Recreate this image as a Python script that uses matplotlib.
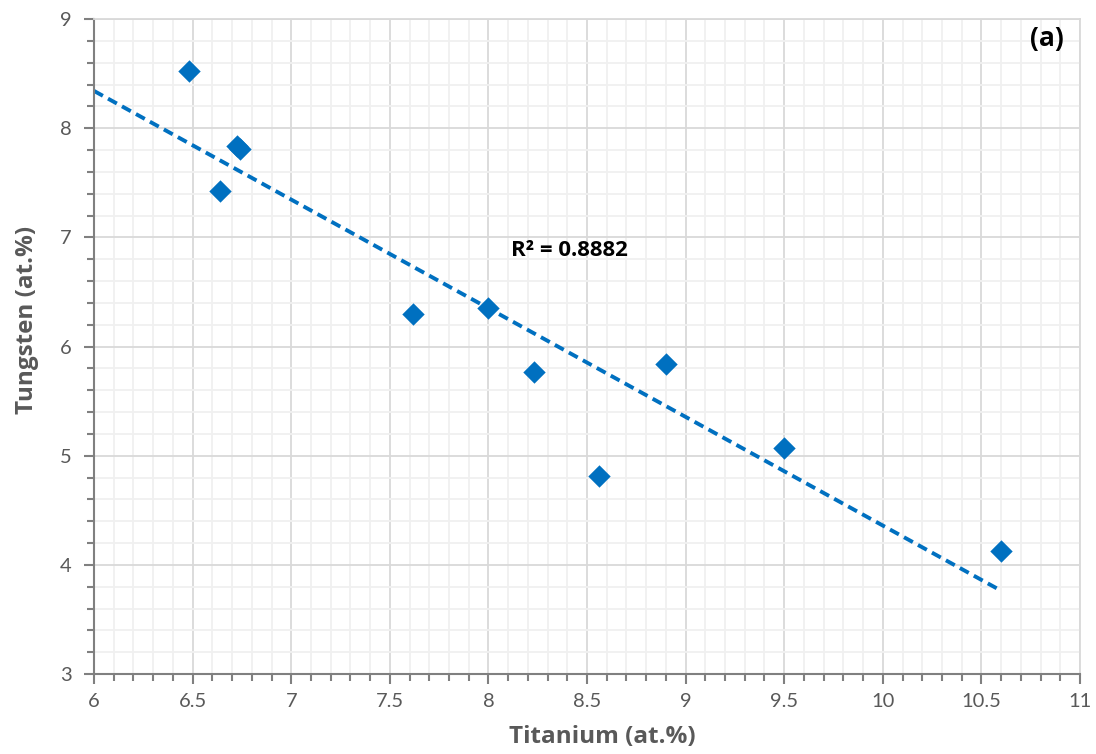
import numpy as np
import matplotlib
matplotlib.use("Agg")
import matplotlib.pyplot as plt
from matplotlib.ticker import MultipleLocator

titanium = [6.48, 6.64, 6.725, 6.74, 7.62, 8.00, 8.23, 8.56, 8.90, 9.50, 10.60]
tungsten = [8.52, 7.42, 7.84, 7.81, 6.30, 6.35, 5.77, 4.81, 5.84, 5.07, 4.13]
r2_label = "R² = 0.8882"
panel_label = "(a)"

plt.rcParams['font.family'] = ['Lato', 'DejaVu Sans']
bold_font = ['Open Sans', 'DejaVu Sans']

fig = plt.figure(figsize=(10.96, 7.54), dpi=100)
ax = fig.add_axes([0.0858, 0.1061, 0.8996, 0.8687])

ax.set_xlim(6, 11)
ax.set_ylim(3, 9)
ax.xaxis.set_major_locator(MultipleLocator(0.5))
ax.xaxis.set_minor_locator(MultipleLocator(0.1))
ax.yaxis.set_major_locator(MultipleLocator(1))
ax.yaxis.set_minor_locator(MultipleLocator(0.2))
ax.grid(which='major', color='#d9d9d9', lw=1.3, zorder=0)
ax.grid(which='minor', color='#f0f0f0', lw=1.3, zorder=0)
ax.set_axisbelow(True)
ax.xaxis.set_major_formatter(plt.FuncFormatter(lambda v, p: f"{v:g}"))

for s in ['top', 'right']:
    ax.spines[s].set_color('#d9d9d9')
    ax.spines[s].set_linewidth(1.3)
for s in ['left', 'bottom']:
    ax.spines[s].set_color('#808080')
    ax.spines[s].set_linewidth(1.5)

ax.tick_params(axis='both', which='major', direction='out', length=7, width=1.5,
               color='#808080', labelcolor='#595959', labelsize=14.5)
ax.tick_params(axis='x', which='major', pad=7)
ax.tick_params(axis='y', which='major', pad=9)
ax.tick_params(axis='both', which='minor', direction='out', length=5, width=1.5,
               color='#808080')

x = np.array(titanium)
y = np.array(tungsten)
m, b = np.polyfit(x, y, 1)
xs = np.array([6.0, x.max()])
ax.plot(xs, m * xs + b, ls=(0, (2.6, 1.5)), color='#0070C0', lw=2.8, zorder=2)
ax.scatter(x, y, marker='D', s=130, color='#0070C0', zorder=3, linewidths=0)

ax.text(8.41, 6.88, r2_label, fontsize=16, fontweight='bold', color='black',
        ha='center', va='center', family=bold_font)
ax.text(10.83, 8.82, panel_label, fontsize=19, fontweight='bold', color='black',
        ha='center', va='center', family=bold_font)

ax.set_xlabel("Titanium (at.%)", fontsize=17.5, fontweight='bold', color='#595959',
              family=bold_font)
ax.set_ylabel("Tungsten (at.%)", fontsize=17.5, fontweight='bold', color='#595959',
              family=bold_font)
ax.xaxis.set_label_coords(0.516, -0.078)
ax.yaxis.set_label_coords(-0.056, 0.54)

fig.savefig("out.png", dpi=100)
